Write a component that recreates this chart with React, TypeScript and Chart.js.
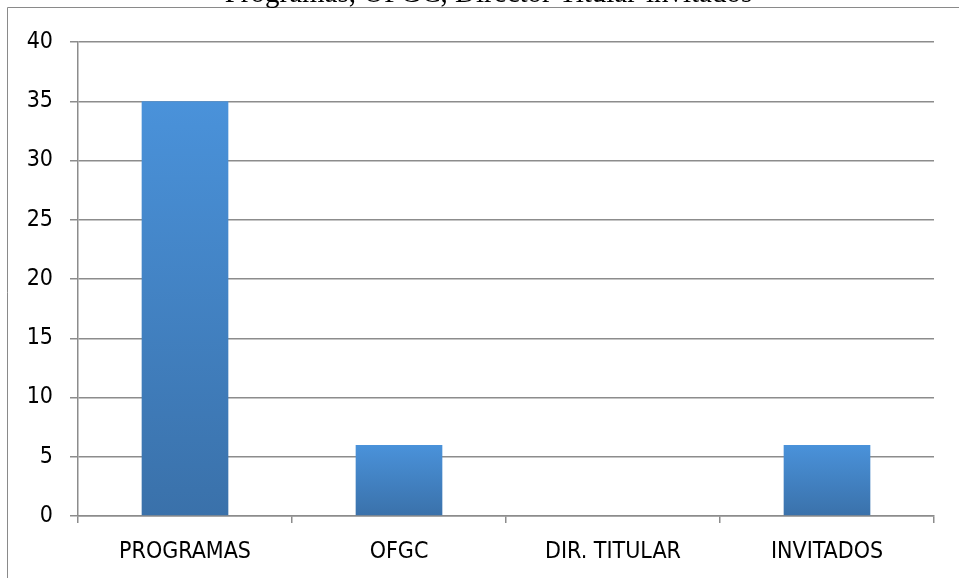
import React, { useEffect, useRef } from "react";
import { Chart, registerables } from "chart.js";

Chart.register(...registerables);

const categories = ["PROGRAMAS", "OFGC", "DIR. TITULAR", "INVITADOS"];
const values = [35, 6, 0, 6];
const yTicks = [0, 5, 10, 15, 20, 25, 30, 35, 40];
const titleText = "Programas, OFGC, Director Titular-invitados";

const GRID = "#8c8c8c";
const FONT = "'DejaVu Sans Condensed', Lato, sans-serif";

const framePlugin = {
  id: "framePlugin",
  beforeDraw(chart: any) {
    const ctx = chart.ctx;
    ctx.save();
    ctx.fillStyle = "#ffffff";
    ctx.fillRect(0, 0, chart.width, chart.height);
    ctx.strokeStyle = "#8a8a8a";
    ctx.lineWidth = 1;
    ctx.beginPath();
    ctx.moveTo(7.5, chart.height);
    ctx.lineTo(7.5, 7.5);
    ctx.lineTo(chart.width, 7.5);
    ctx.stroke();
    ctx.fillStyle = "#000000";
    ctx.font = "29px 'Liberation Serif', 'Times New Roman', serif";
    ctx.textAlign = "center";
    ctx.textBaseline = "alphabetic";
    ctx.fillText(titleText, 488.5, 2);
    ctx.restore();
  },
};

export default function App() {
  const ref = useRef<HTMLCanvasElement | null>(null);
  useEffect(() => {
    if (!ref.current) return;
    const chart = new Chart(ref.current, {
      type: "bar",
      data: {
        labels: categories,
        datasets: [
          {
            data: values,
            categoryPercentage: 1,
            barPercentage: 0.405,
            backgroundColor: (c: any) => {
              const ch = c.chart;
              const y = ch.scales && ch.scales.y;
              if (!y || !ch.chartArea) return "#4288cc";
              const top = y.getPixelForValue(c.raw ?? 0);
              const bottom = y.getPixelForValue(0);
              if (!(bottom > top)) return "#4288cc";
              const g = ch.ctx.createLinearGradient(0, top, 0, bottom);
              g.addColorStop(0, "#4a92da");
              g.addColorStop(1, "#3a71aa");
              return g;
            },
            borderWidth: 0,
          },
        ],
      },
      options: {
        responsive: false,
        animation: false,
        layout: { padding: { top: 42, right: 25, bottom: 0, left: 0 } },
        plugins: { legend: { display: false }, tooltip: { enabled: false }, title: { display: false } },
        scales: {
          x: {
            offset: true,
            grid: { display: true, drawOnChartArea: false, drawTicks: true, tickLength: 7, color: GRID, lineWidth: 1.5, offset: true },
            border: { display: true, color: GRID, width: 1.5 },
            ticks: { color: "#000", font: { family: FONT, size: 23 }, padding: 15, maxRotation: 0 },
            afterFit: (s: any) => { s.height = 62; },
          },
          y: {
            min: 0,
            max: 40,
            afterBuildTicks: (s: any) => { s.ticks = yTicks.map((v) => ({ value: v })); },
            grid: { color: GRID, lineWidth: 1.5, tickLength: 8, drawTicks: true },
            border: { display: true, color: GRID, width: 1.5 },
            ticks: { color: "#000", font: { family: FONT, size: 23 }, padding: 17 },
            afterFit: (s: any) => { s.width = 78; },
          },
        },
      },
      plugins: [framePlugin],
    });
    return () => chart.destroy();
  }, []);
  return (
    <div style={{ position: "fixed", left: 0, top: 0, width: 959, height: 578, background: "#fff" }}>
      <canvas ref={ref} width={959} height={578} style={{ display: "block" }} />
    </div>
  );
}
